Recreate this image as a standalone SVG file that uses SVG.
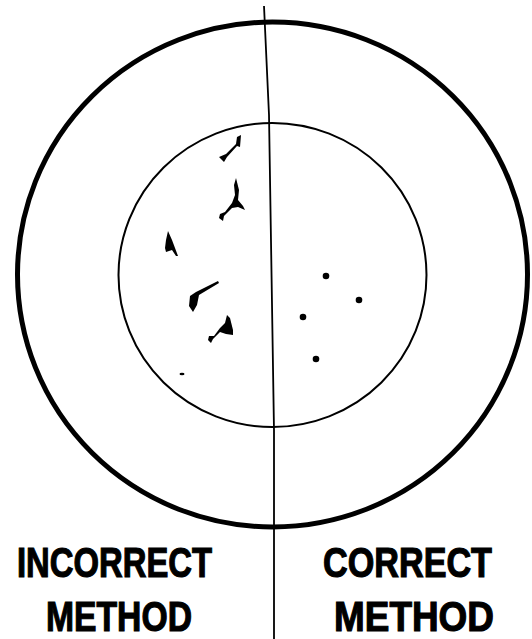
<svg xmlns="http://www.w3.org/2000/svg" width="532" height="639" viewBox="0 0 532 639">
<style>
.lbl{font-family:"Liberation Sans",Arial,sans-serif;font-weight:bold;font-size:43px;fill:#000;stroke:#000;stroke-width:1.2}
.mark{fill:#000}
</style>
<rect width="532" height="639" fill="#fff"/>
<g id="outer-circle"><ellipse cx="272.5" cy="274.5" rx="255" ry="252.5" fill="none" stroke="#000" stroke-width="5"/></g>
<g id="inner-circle"><ellipse cx="272.5" cy="275" rx="154" ry="152" fill="none" stroke="#000" stroke-width="2"/></g>
<g id="divider"><polyline points="264,6 269,115 274,430 274,639" fill="none" stroke="#000" stroke-width="1.8"/></g>
<g id="incorrect-marks" class="mark">
<path d="M219,157 L226,154 L236,144 L237,137 L241,135 L240,147 L237,146 L227,157 L224,162 Z"/>
<path d="M236,178 L239,190 L238,200 L243,206 L245,210 L238,207 L232,208 L224,216 L223,221 L219,218 L220,214 L225,212 L232,203 L235,195 L234,185 Z"/>
<path d="M168,231 L172,240 L175,248 L178,256 L176,256 L172,250 L166,252 L165,248 L166,240 Z"/>
<path d="M218,281 L219,283 L199,295 L197,305 L193,312 L189,306 L190,296 L196,292 Z"/>
<path d="M227,315 L230,318 L233,330 L233,335 L226,334 L220,332 L213,339 L211,343 L208,340 L209,336 L214,336 L220,328 L225,323 Z"/>
<ellipse cx="182" cy="374" rx="2.5" ry="1.3"/>
</g>
<g id="correct-dots" class="mark">
<circle cx="326" cy="276" r="3.3"/>
<circle cx="359" cy="300" r="3.3"/>
<circle cx="303" cy="317" r="3.3"/>
<circle cx="316" cy="359" r="3.3"/>
</g>
<g id="label-incorrect">
<text class="lbl" x="17" y="577" textLength="195" lengthAdjust="spacingAndGlyphs">INCORRECT</text>
<text class="lbl" x="46" y="631" textLength="146" lengthAdjust="spacingAndGlyphs">METHOD</text>
</g>
<g id="label-correct">
<text class="lbl" x="323" y="577" textLength="169" lengthAdjust="spacingAndGlyphs">CORRECT</text>
<text class="lbl" x="334" y="631" textLength="160" lengthAdjust="spacingAndGlyphs">METHOD</text>
</g>
</svg>
